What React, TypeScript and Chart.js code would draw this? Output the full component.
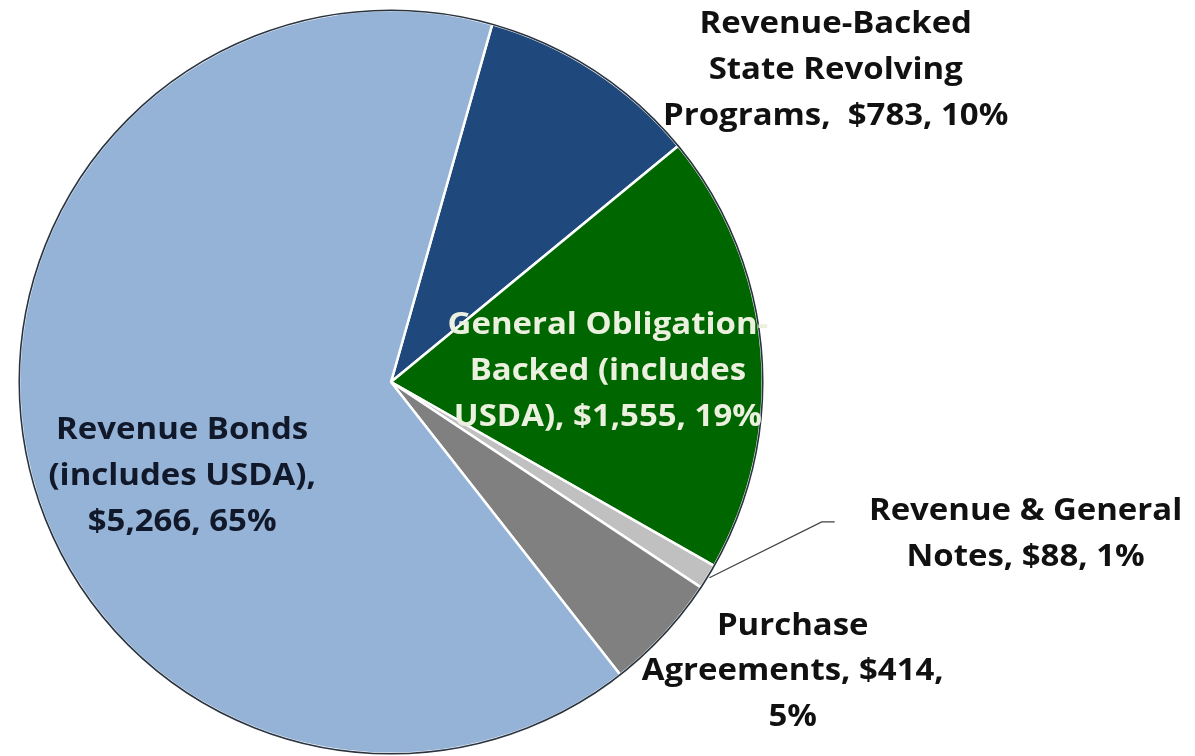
import React, { useEffect, useRef } from "react";
import { Chart, registerables } from "chart.js";

Chart.register(...registerables);

const categories = [
  "Revenue-Backed State Revolving Programs",
  "General Obligation-Backed (includes USDA)",
  "Revenue & General Notes",
  "Purchase Agreements",
  "Revenue Bonds (includes USDA)",
];
const amounts = [783, 1555, 88, 414, 5266];
const percents = ["10%", "19%", "1%", "5%", "65%"];
const labelLines = [
  ["Revenue-Backed", "State Revolving", "Programs,  $783, 10%"],
  ["General Obligation-", "Backed (includes", "USDA), $1,555, 19%"],
  ["Revenue & General", "Notes, $88, 1%"],
  ["Purchase", "Agreements, $414,", "5%"],
  ["Revenue Bonds", "(includes USDA),", "$5,266, 65%"],
];
const colors = ["#1F497D", "#006600", "#C0C0C0", "#808080", "#95B3D7"];
const labelColors = ["#111111", "#EBF1DE", "#111111", "#111111", "#10182A"];
// label anchor offsets relative to pie centre (in px at radius 372)
const labelOffsets = [
  [445, -358],
  [217, -57],
  [635, 129],
  [402, 244],
  [-209, 48],
];

const FONT = "bold 30.5px 'Open Sans', Lato, sans-serif";
const TEXT_STRETCH = 1.08;
const LINE_H = 46;

const labelPlugin = {
  id: "sliceLabels",
  afterDatasetsDraw(chart: any) {
    const ctx = chart.ctx;
    const meta = chart.getDatasetMeta(0);
    const first = meta.data[0];
    if (!first) return;
    const cx = first.x;
    const cy = first.y;
    const R = first.outerRadius;
    const s = R / 372;
    // outer outline
    ctx.save();
    ctx.beginPath();
    ctx.arc(cx, cy, R, 0, Math.PI * 2);
    ctx.strokeStyle = "#2a3440";
    ctx.lineWidth = 1.6;
    ctx.stroke();
    ctx.restore();

    // leader line for small slice
    const small = meta.data[2];
    const mid = (small.startAngle + small.endAngle) / 2;
    ctx.save();
    ctx.strokeStyle = "#404040";
    ctx.lineWidth = 1.2;
    ctx.beginPath();
    ctx.moveTo(cx + Math.cos(mid) * (R + 2), cy + Math.sin(mid) * (R + 2));
    ctx.lineTo(cx + 431 * s, cy + 140 * s);
    ctx.lineTo(cx + 444 * s, cy + 140 * s);
    ctx.stroke();
    ctx.restore();

    labelLines.forEach((lines, i) => {
      const [ox, oy] = labelOffsets[i];
      lines.forEach((ln, j) => {
        ctx.save();
        ctx.font = FONT;
        ctx.textAlign = "center";
        ctx.textBaseline = "middle";
        ctx.fillStyle = labelColors[i];
        ctx.translate(cx + ox * s, cy + oy * s + j * LINE_H * s);
        ctx.scale(TEXT_STRETCH, 1);
        ctx.fillText(ln, 0, 0);
        ctx.restore();
      });
    });
  },
};

export default function App() {
  const ref = useRef<HTMLCanvasElement | null>(null);
  useEffect(() => {
    if (!ref.current) return;
    const chart = new Chart(ref.current, {
      type: "pie",
      data: {
        labels: categories,
        datasets: [
          {
            data: amounts,
            backgroundColor: colors,
            borderColor: "#ffffff",
            borderWidth: 2.5,
          },
        ],
      },
      options: {
        responsive: false,
        animation: false,
        rotation: 15.8,
        layout: { padding: { left: 18, top: 9, right: 431, bottom: 1 } },
        plugins: {
          legend: { display: false },
          tooltip: { enabled: false },
        },
      },
      plugins: [labelPlugin],
    });
    return () => chart.destroy();
  }, []);
  return (
    <div style={{ position: "absolute", left: 0, top: 0, width: 1195, height: 756, background: "#fff" }}>
      <canvas ref={ref} width={1195} height={756} style={{ width: 1195, height: 756 }} />
    </div>
  );
}
